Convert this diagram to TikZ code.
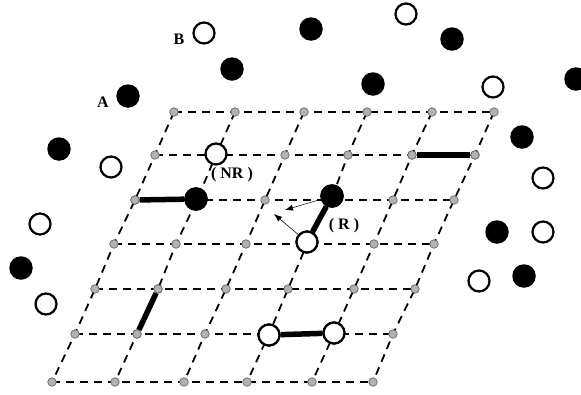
\documentclass[tikz,border=0pt]{standalone}
\usepackage{fontspec}
\setmainfont{Liberation Serif}
\usetikzlibrary{arrows.meta}
\begin{document}
\begin{tikzpicture}[x=1pt,y=-1pt,
  dot/.style={circle,inner sep=0pt,minimum size=8.5pt,fill=black!30,draw=black!60,line width=0.7pt},
  openb/.style={circle,inner sep=0pt,minimum size=21pt,fill=white,draw=black,line width=2.2pt},
  fullb/.style={circle,inner sep=0pt,minimum size=23.5pt,fill=black},
  gridline/.style={line width=1.8pt,dash pattern=on 8pt off 6pt},
  bond/.style={line width=5.5pt},
  move/.style={line width=0.5pt,-{Latex[length=8pt,width=6pt]}},
  lbl/.style={font=\fontsize{16}{18}\selectfont\bfseries,inner sep=0pt}
]
\useasboundingbox (0,0) rectangle (581,394);
% grid points
\foreach \r/\y/\xa/\xb/\xc/\xd/\xe/\xf in {
  0/112/174/235/304/367/432/494,
  1/155/155/216/285/348/412/475,
  2/200/135/197/265/331/393/454,
  3/244/114/176/246/307/374/434,
  4/289/95/158/226/288/354/415,
  5/334/75/137/205/269/334/393,
  6/382/52/115/184/247/312/373}{
  \coordinate (g\r0) at (\xa,\y);
  \coordinate (g\r1) at (\xb,\y);
  \coordinate (g\r2) at (\xc,\y);
  \coordinate (g\r3) at (\xd,\y);
  \coordinate (g\r4) at (\xe,\y);
  \coordinate (g\r5) at (\xf,\y);
}
% dashed lattice
\foreach \r in {0,...,6}{
  \draw[gridline] (g\r0) -- (g\r1) -- (g\r2) -- (g\r3) -- (g\r4) -- (g\r5);
}
\foreach \c in {0,...,5}{
  \draw[gridline] (g0\c) -- (g1\c) -- (g2\c) -- (g3\c) -- (g4\c) -- (g5\c) -- (g6\c);
}
% gray lattice dots
\foreach \r in {0,...,6}{
  \foreach \c in {0,...,5}{
    \node[dot] (d\r\c) at (g\r\c) {};
  }
}
% bonds and particles on the lattice
\node[openb] (nro) at (216,154) {};
\node[fullb] (nrb) at (196,199) {};
\node[fullb] (rb) at (332,196) {};
\node[openb] (ro) at (307,242) {};
\node[openb] (p53) at (269,335) {};
\node[openb] (p54) at (334,333) {};
\draw[bond] (d20) -- (nrb);
\draw[bond] (d14) -- (d15);
\draw[bond] (rb) -- (ro);
\draw[bond] (d41) -- (d51);
\draw[bond] (p53) -- (p54);
\node[fullb] at (nrb) {};
\node[fullb] at (rb) {};
\node[openb] at (ro) {};
\node[openb] at (p53) {};
\node[openb] at (p54) {};
\node[dot] at (d20) {};
\node[dot] at (d14) {};
\node[dot] at (d15) {};
\node[dot] at (d41) {};
\node[dot] at (d51) {};
% moves
\coordinate (t1) at (285,210);
\coordinate (t2) at (274,214);
\draw[move] (rb) -- (t1);
\draw[move] (ro) -- (t2);
% labels
\node[lbl] (lnr) at (232,175) {( NR )};
\node[lbl] (lr) at (344,226) {( R )};
\node[lbl] (la) at (103,102) {A};
\node[lbl] (lb) at (179,39) {B};
% free particles
\foreach \n/\x/\y in {o1/204/33, o2/406/14, o3/493/87, o4/111/167, o5/543/178,
  o6/40/224, o7/543/232, o8/479/281, o9/46/304}{
  \node[openb] (\n) at (\x,\y) {};
}
\foreach \n/\x/\y in {b1/311/29, b2/452/39, b3/232/69, b4/373/84, b5/128/96,
  b6/576/79, b7/59/149, b8/522/137, b9/497/232, b10/524/276, b11/21/268}{
  \node[fullb] (\n) at (\x,\y) {};
}
\end{tikzpicture}
\end{document}
